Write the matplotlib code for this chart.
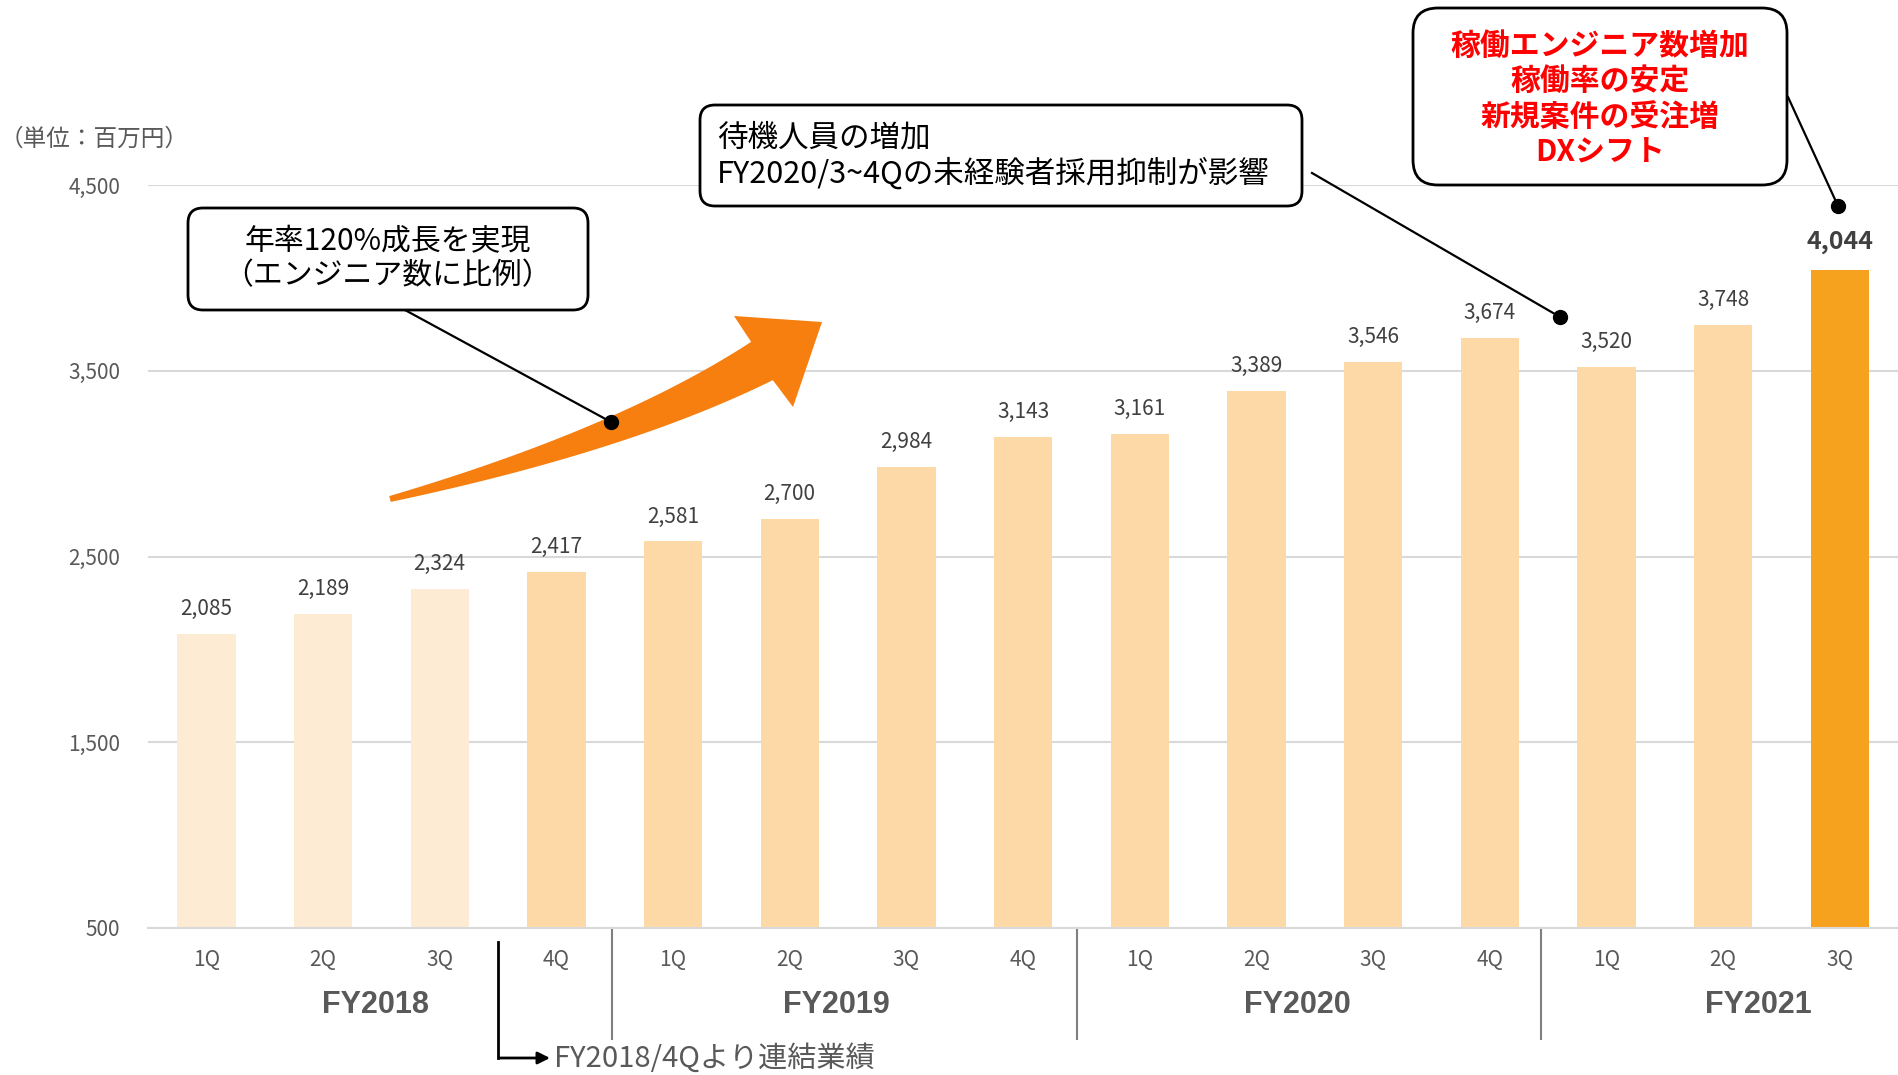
import numpy as np
import matplotlib
matplotlib.use('Agg')
import matplotlib.pyplot as plt
import matplotlib.transforms as mtransforms
from matplotlib.patches import FancyBboxPatch, Polygon

plt.rcParams['font.family'] = ['Noto Sans CJK JP', 'DejaVu Sans']

# data
quarters = ['1Q', '2Q', '3Q', '4Q', '1Q', '2Q', '3Q', '4Q',
            '1Q', '2Q', '3Q', '4Q', '1Q', '2Q', '3Q']
sales = [2085, 2189, 2324, 2417, 2581, 2700, 2984, 3143,
         3161, 3389, 3546, 3674, 3520, 3748, 4044]
fiscal_years = ['FY2018', 'FY2019', 'FY2020', 'FY2021']
yticks = [500, 1500, 2500, 3500, 4500]

W, H = 1898, 1075
fig = plt.figure(figsize=(W / 100, H / 100), dpi=100)
ax = fig.add_axes([148 / W, 1 - 928 / H, 1 - 148 / W, (928 - 185) / H])
# pixel coords measured from the top-left of the figure
px = mtransforms.Affine2D().scale(1 / W, -1 / H).translate(0, 1) + fig.transFigure
xpx = mtransforms.blended_transform_factory(ax.transData, px)

x = np.arange(len(sales))
colors = ['#FDEBD3'] * 3 + ['#FDD9A7'] * 11 + ['#F7A21F']
ax.bar(x, sales, width=0.5, color=colors, zorder=2)

ax.set_xlim(-0.5, len(sales) - 0.5)
ax.set_ylim(500, 4500)
ax.set_yticks(yticks, [f'{v:,}' for v in yticks])
ax.set_xticks(x, quarters)
ax.yaxis.grid(True, color='#D9D9D9', lw=1.5)
ax.set_axisbelow(True)
for s in ['top', 'right', 'left']:
    ax.spines[s].set_visible(False)
ax.spines['bottom'].set_color('#D9D9D9')
ax.spines['bottom'].set_linewidth(1.5)
ax.tick_params(axis='y', length=0, pad=20, labelsize=15, labelcolor='#595959')
ax.tick_params(axis='x', length=0, pad=15, labelsize=15, labelcolor='#595959')

# value labels
for i, v in enumerate(sales):
    if i == len(sales) - 1:
        ax.annotate(f'{v:,}', (i, v), xytext=(0, 20), textcoords='offset points',
                    ha='center', va='center', fontsize=18, fontweight='bold', color='#404040')
    else:
        ax.annotate(f'{v:,}', (i, v), xytext=(0, 18), textcoords='offset points',
                    ha='center', va='center', fontsize=15, color='#404040')

# fiscal year group labels and separators
for k, fy in enumerate(fiscal_years):
    ax.text(3.95 * k + 1.45, 1005, fy, transform=xpx, ha='center', va='center',
            fontsize=22, fontweight='bold', color='#595959',
            family=['Liberation Sans Narrow', 'Liberation Sans'])
    if k > 0:
        ax.plot([3.98 * k - 0.5] * 2, [928, 1039], transform=xpx, color='#7F7F7F',
                lw=1.5, clip_on=False)

# consolidation note
ax.plot([2.5, 2.5], [942, 1058], transform=xpx, color='black', lw=2, clip_on=False)
ax.annotate('', xy=(550, 1058), xycoords=px, xytext=(500, 1058), textcoords=px,
            arrowprops=dict(arrowstyle='-|>', color='black', lw=2,
                            mutation_scale=18, shrinkA=0, shrinkB=0))
fig.text(554, 1059, 'FY2018/4Qより連結業績', transform=px, ha='left', va='center',
         fontsize=21, color='#595959')

# unit
fig.text(0, 139, '（単位：百万円）', transform=px, ha='left', va='center',
         fontsize=17, color='#595959')

# curved growth arrow
t = np.linspace(0, 1, 50)[:, None]
p0, pc, p2 = np.array([390, 499]), np.array([623, 440]), np.array([762, 361])
curve = (1 - t) ** 2 * p0 + 2 * (1 - t) * t * pc + t ** 2 * p2
tang = 2 * (1 - t) * (pc - p0) + 2 * t * (p2 - pc)
tang = tang / np.linalg.norm(tang, axis=1, keepdims=True)
nrm = np.column_stack([tang[:, 1], -tang[:, 0]])
wid = 6 + 38 * t
upper = curve + nrm * wid / 2
lower = curve - nrm * wid / 2
head = np.array([[734, 316], [822, 322], [793, 407]])
pts = np.vstack([upper, head, lower[::-1]])
fig.patches.append(Polygon(pts, closed=True, transform=px, color='#F67F10', lw=0))


def callout(x0, y0, w, h, r, line_from, dot):
    fig.patches.append(FancyBboxPatch((x0, y0), w, h, boxstyle=f'round,pad=0,rounding_size={r}',
                                      transform=px, facecolor='white', edgecolor='black',
                                      lw=2, zorder=5))
    fig.lines.append(plt.Line2D([line_from[0], dot[0]], [line_from[1], dot[1]],
                                transform=px, color='black', lw=1.6, zorder=5))
    fig.lines.append(plt.Line2D([dot[0]], [dot[1]], transform=px, marker='o',
                                markersize=10, color='black', zorder=6))


callout(188, 208, 400, 102, 15, (405, 310), (611, 422))
fig.text(388, 259, '年率120%成長を実現\n（エンジニア数に比例）', transform=px,
         ha='center', va='center', fontsize=21.5, color='black', linespacing=1.12, zorder=7)

callout(700, 105, 602, 101, 15, (1312, 173), (1560, 317))
fig.text(717, 156, '待機人員の増加\nFY2020/3~4Qの未経験者採用抑制が影響', transform=px,
         ha='left', va='center', fontsize=22, color='black', linespacing=1.13, zorder=7)

callout(1413, 8, 374, 177, 25, (1788, 97), (1838, 206))
fig.text(1600, 99, '稼働エンジニア数増加\n稼働率の安定\n新規案件の受注増\nDXシフト', transform=px,
         ha='center', va='center', fontsize=21.5, fontweight='bold', color='#FF0000',
         linespacing=1.23, zorder=7)

fig.savefig('out.png', dpi=100)
